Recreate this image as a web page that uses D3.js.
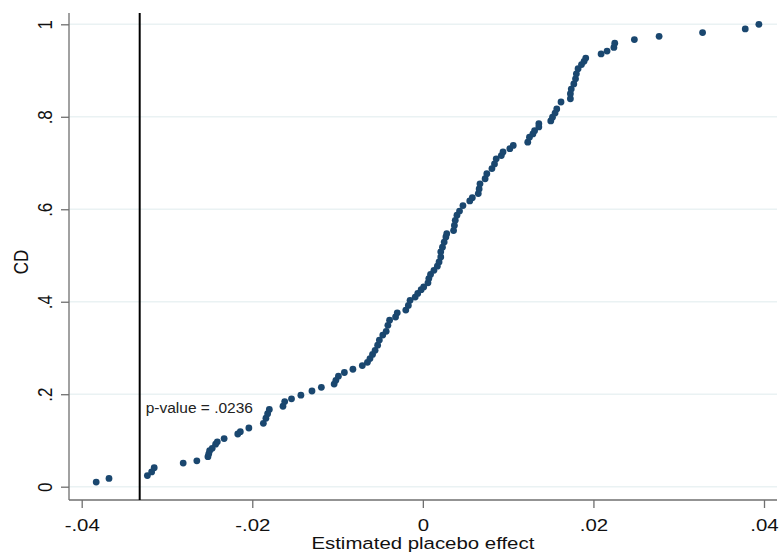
<!DOCTYPE html>
<html>
<head>
<meta charset="utf-8">
<script src="https://cdn.jsdelivr.net/npm/d3@7"></script>
<style>
  body { margin: 0; background: #fff; }
  svg { display: block; font-family: "Liberation Sans", Arial, sans-serif; }
</style>
</head>
<body>
<svg id="plot" width="780" height="554"></svg>
<script>
const width = 780;
const height = 554;

// placebo estimates (sorted) and their cumulative share
const effects = [
  -0.0383, -0.0368, -0.0323, -0.0318, -0.0315, -0.0281, -0.0265, -0.0252, -0.0251, -0.0250,
  -0.0247, -0.0243, -0.0241, -0.0233, -0.0217, -0.0214, -0.0204, -0.0187, -0.0184, -0.0182,
  -0.0180, -0.0164, -0.0162, -0.0154, -0.0143, -0.0130, -0.0119, -0.0104, -0.0102, -0.0099,
  -0.0092, -0.0082, -0.0071, -0.0065, -0.0062, -0.0059, -0.0056, -0.0053, -0.0051, -0.0047,
  -0.0043, -0.0041, -0.0039, -0.0032, -0.0030, -0.0020, -0.0017, -0.0015, -0.0009, -0.0006,
  -0.0002, 0.0001, 0.0006, 0.0007, 0.0009, 0.0013, 0.0017, 0.0019, 0.0021, 0.0021,
  0.0023, 0.0025, 0.0027, 0.0028, 0.0036, 0.0037, 0.0038, 0.0040, 0.0043, 0.0047,
  0.0055, 0.0058, 0.0065, 0.0066, 0.0067, 0.0073, 0.0075, 0.0081, 0.0084, 0.0086,
  0.0092, 0.0094, 0.0102, 0.0106, 0.0123, 0.0125, 0.0129, 0.0131, 0.0136, 0.0136,
  0.0150, 0.0152, 0.0155, 0.0157, 0.0162, 0.0173, 0.0173, 0.0174, 0.0177, 0.0179,
  0.0180, 0.0182, 0.0186, 0.0189, 0.0191, 0.0209, 0.0216, 0.0224, 0.0225, 0.0248,
  0.0277, 0.0328, 0.0378, 0.0394
];
const cdValues = [
  0.010, 0.018, 0.024, 0.032, 0.041, 0.051, 0.056, 0.065, 0.071, 0.078,
  0.083, 0.092, 0.097, 0.104, 0.114, 0.119, 0.127, 0.137, 0.148, 0.158,
  0.167, 0.174, 0.184, 0.190, 0.198, 0.207, 0.215, 0.222, 0.230, 0.239,
  0.247, 0.254, 0.262, 0.269, 0.277, 0.286, 0.295, 0.306, 0.317, 0.328,
  0.336, 0.349, 0.360, 0.367, 0.376, 0.382, 0.392, 0.403, 0.410, 0.418,
  0.426, 0.432, 0.441, 0.450, 0.459, 0.468, 0.477, 0.486, 0.497, 0.508,
  0.518, 0.529, 0.540, 0.547, 0.554, 0.565, 0.576, 0.587, 0.596, 0.608,
  0.618, 0.625, 0.634, 0.644, 0.655, 0.666, 0.677, 0.688, 0.698, 0.709,
  0.716, 0.724, 0.731, 0.738, 0.745, 0.756, 0.763, 0.770, 0.778, 0.785,
  0.791, 0.799, 0.808, 0.817, 0.832, 0.839, 0.850, 0.860, 0.871, 0.882,
  0.893, 0.904, 0.913, 0.920, 0.927, 0.936, 0.942, 0.950, 0.959, 0.967,
  0.974, 0.982, 0.990, 1.000
];

const actualEffect = -0.0332;
const pLabel = "p-value = .0236";

const xTicks = [-0.04, -0.02, 0, 0.02, 0.04];
const xTickLabels = ["-.04", "-.02", "0", ".02", ".04"];
const yTicks = [0, 0.2, 0.4, 0.6, 0.8, 1];
const yTickLabels = ["0", ".2", ".4", ".6", ".8", "1"];

const xTitle = "Estimated placebo effect";
const yTitle = "CD";

const svg = d3.select("#plot");

// plot region (axes lines) and data mapping
const plotLeft = 69, plotRight = 777, plotTop = 13, plotBottom = 500;
const stretch = "scale(1.2,1)";

const x = d3.scaleLinear().domain([-0.04, 0.04]).range([81.7, 764]);
const y = d3.scaleLinear().domain([0, 1]).range([486.7, 24.3]);

// grid
svg.append("g")
  .selectAll("line")
  .data(yTicks)
  .join("line")
  .attr("x1", plotLeft)
  .attr("x2", plotRight)
  .attr("y1", d => y(d))
  .attr("y2", d => y(d))
  .attr("stroke", "#eaf2f3")
  .attr("stroke-width", 1.6);

// axes
const xAxis = svg.append("g")
  .attr("transform", `translate(0,${plotBottom})`)
  .call(d3.axisBottom(x)
    .tickValues(xTicks)
    .tickFormat((d, i) => xTickLabels[i])
    .tickSize(8)
    .tickSizeOuter(0)
    .tickPadding(6));

xAxis.select(".domain").attr("d", `M${plotLeft},0H${plotRight}`);

const yAxis = svg.append("g")
  .attr("transform", `translate(${plotLeft},0)`)
  .call(d3.axisLeft(y)
    .tickValues(yTicks)
    .tickFormat((d, i) => yTickLabels[i])
    .tickSize(8)
    .tickSizeOuter(0));

yAxis.select(".domain").attr("d", `M0,${plotTop}V${plotBottom}`);

[xAxis, yAxis].forEach(g => {
  g.select(".domain").attr("stroke", "#6f6f6f").attr("stroke-width", 1.3);
  g.selectAll(".tick line").attr("stroke", "#6f6f6f").attr("stroke-width", 1.3);
  g.selectAll(".tick text")
    .attr("fill", "#111")
    .attr("font-size", 17)
    .attr("font-family", "Liberation Sans, Arial, sans-serif");
});

xAxis.selectAll(".tick text")
  .attr("y", 0)
  .attr("dy", 0)
  .attr("transform", `translate(0,31) ${stretch}`);

yAxis.selectAll(".tick text")
  .attr("x", 0)
  .attr("dy", 0)
  .attr("text-anchor", "middle")
  .attr("transform", `translate(-17,0) ${stretch} rotate(-90)`);

// vertical line at the actual estimate
svg.append("line")
  .attr("x1", x(actualEffect))
  .attr("x2", x(actualEffect))
  .attr("y1", plotTop)
  .attr("y2", plotBottom)
  .attr("stroke", "#000")
  .attr("stroke-width", 2);

svg.append("text")
  .attr("transform", `translate(${x(actualEffect) + 6},413)`)
  .attr("font-size", 15.5)
  .attr("fill", "#222")
  .text(pLabel);

// points
const pts = effects.map((e, i) => ({ e: e, cd: cdValues[i] }));

svg.append("g")
  .selectAll("circle")
  .data(pts)
  .join("circle")
  .attr("cx", d => x(d.e))
  .attr("cy", d => y(d.cd))
  .attr("r", 3.4)
  .attr("fill", "#1a476f");

// titles
svg.append("text")
  .attr("transform", `translate(${x(0)},549) ${stretch}`)
  .attr("text-anchor", "middle")
  .attr("font-size", 17)
  .attr("fill", "#111")
  .text(xTitle);

svg.append("text")
  .attr("transform", `translate(28,262) ${stretch} rotate(-90)`)
  .attr("text-anchor", "middle")
  .attr("font-size", 17)
  .attr("fill", "#111")
  .text(yTitle);
</script>
</body>
</html>
